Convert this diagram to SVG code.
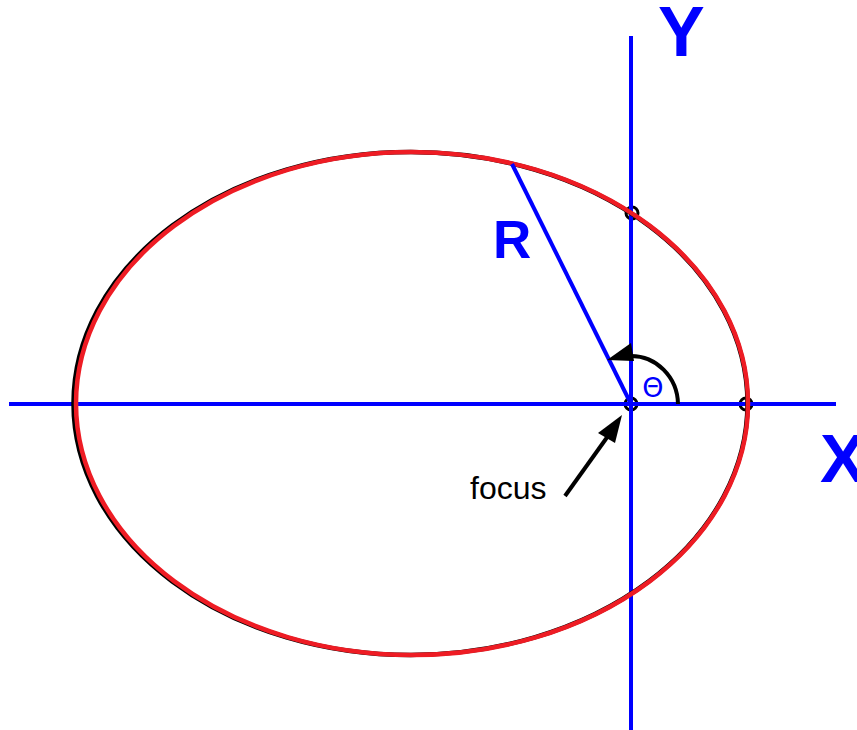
<svg xmlns="http://www.w3.org/2000/svg" width="857" height="730" viewBox="0 0 857 730">
<defs>
<style>
.axis{stroke:#0000ff;stroke-width:4;fill:none}
.pt{fill:none;stroke:#000;stroke-width:3}
.lbl{font-family:"Liberation Sans",Arial,sans-serif;font-weight:bold;fill:#0000ff}
.blk{stroke:#000;stroke-width:4;fill:none}
</style>
</defs>
<rect width="857" height="730" fill="#fff"/>
<g id="points">
<circle class="pt" cx="631" cy="404" r="6"/>
<circle class="pt" cx="746" cy="404" r="6"/>
<circle class="pt" cx="632" cy="213" r="6"/>
</g>
<g id="connectors">
<line id="x-axis" class="axis" x1="9" y1="404" x2="836" y2="404"/>
<line id="y-axis" class="axis" x1="631" y1="36" x2="631" y2="730"/>
</g>
<g id="ellipse">
<ellipse cx="410.5" cy="403.5" rx="337" ry="251.5" fill="none" stroke="#000" stroke-width="4.5"/>
<ellipse cx="412" cy="403.5" rx="336" ry="251.5" fill="none" stroke="#ee1c24" stroke-width="4.5"/>
</g>
<g id="radius">
<line class="axis" x1="512" y1="164" x2="631" y2="404"/>
</g>
<g id="angle">
<path class="blk" stroke-width="3" d="M678,404 A47,49 0 0 0 630,356"/>
<polygon points="607,360 631,343 634,361" fill="#000"/>
</g>
<g id="focus-arrow">
<line class="blk" x1="565" y1="496" x2="608" y2="436"/>
<polygon points="622,415 598,433 615,443" fill="#000"/>
</g>
<g id="labels">
<text class="lbl" x="658" y="56" font-size="70">Y</text>
<text class="lbl" x="820" y="482" font-size="69">X</text>
<text class="lbl" x="493" y="258" font-size="53">R</text>
<text x="653" y="397" font-size="27" text-anchor="middle" font-family="'DejaVu Sans',sans-serif" fill="#0000ff">Θ</text>
<text x="470" y="499" font-size="32" font-family="'Liberation Sans',Arial,sans-serif" fill="#000">focus</text>
</g>
</svg>
